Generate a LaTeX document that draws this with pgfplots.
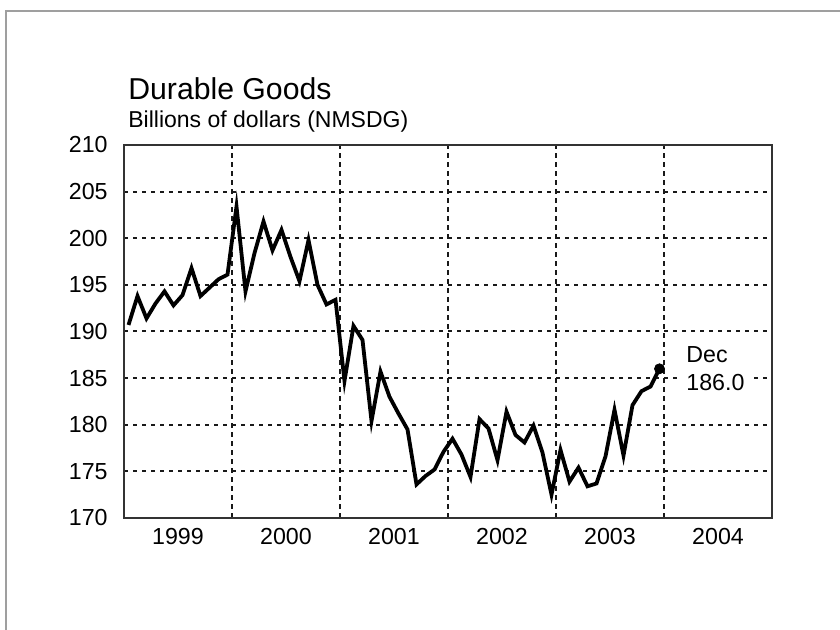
\documentclass[border=0pt]{standalone}
\usepackage{fontspec}
\setmainfont{Liberation Sans}
\usepackage{pgfplots}
\pgfplotsset{compat=1.18}
\begin{document}
\begin{tikzpicture}[x=1pt,y=1pt]
\useasboundingbox (0,0) rectangle (420,315);
\fill[white] (0,0) rectangle (420,315);
\draw[gray!75, line width=1pt] (3,-10) -- (3,309.5) -- (430,309.5);
\begin{axis}[
  at={(62pt,56pt)}, anchor=south west,
  scale only axis, width=324pt, height=186.5pt,
  xmin=0.5, xmax=72.5, ymin=170, ymax=210,
  xtick={6.5,18.5,30.5,42.5,54.5,66.5},
  xticklabels={1999,2000,2001,2002,2003,2004},
  minor xtick={12.5,24.5,36.5,48.5,60.5},
  ytick={170,175,...,210},
  major tick length=0pt, minor tick length=0pt,
  xminorgrids=true, ymajorgrids=true,
  minor grid style={black!90, line width=1pt, dash pattern=on 2.5pt off 2pt},
  major grid style={black!90, line width=1pt, dash pattern=on 2pt off 2.5pt},
  axis line style={black!80, line width=1pt},
  tick label style={font=\fontsize{11.6}{13}\selectfont, inner sep=0pt},
  /pgf/number format/assume math mode=true,
  yticklabel style={xshift=-8pt},
  xticklabel style={yshift=-5pt},
  clip=false,
]
\addplot[black, line width=1.9pt, line join=miter, mark=none] coordinates {
(1,190.7) (2,193.8) (3,191.4) (4,193.0) (5,194.3) (6,192.8) (7,193.9) (8,196.8) (9,193.8) (10,194.7) (11,195.6) (12,196.1)
(13,203.4) (14,194.3) (15,198.4) (16,201.8) (17,198.7) (18,200.9) (19,198.0) (20,195.4) (21,199.8) (22,195.0) (23,192.9) (24,193.4)
(25,184.7) (26,190.6) (27,189.1) (28,180.4) (29,185.7) (30,183.0) (31,181.2) (32,179.5) (33,173.6) (34,174.5) (35,175.2) (36,177.1)
(37,178.5) (38,176.8) (39,174.4) (40,180.6) (41,179.6) (42,176.2) (43,181.4) (44,178.9) (45,178.1) (46,179.9) (47,177.0) (48,172.5)
(49,177.3) (50,173.9) (51,175.4) (52,173.4) (53,173.7) (54,176.6) (55,181.6) (56,176.7) (57,182.1) (58,183.6) (59,184.1) (60,186.0)
};
\addplot[black, only marks, mark=*, mark size=2.5pt] coordinates {(60,186.0)};
\end{axis}
\node[anchor=base west, inner sep=0pt, font=\fontsize{15.1}{17}\selectfont] at (64,265.35) {Durable Goods};
\node[anchor=base west, inner sep=0pt, font=\fontsize{11.5}{13}\selectfont] at (64,251.35) {Billions of dollars (NMSDG)};
\node[anchor=base west, inner sep=0pt, font=\fontsize{11.6}{13}\selectfont] at (343,133.65) {Dec};
\node[anchor=base west, inner xsep=3pt, inner ysep=1pt, fill=white, font=\fontsize{11.6}{13}\selectfont, xshift=-3pt] at (343,119.65) {186.0};
\end{tikzpicture}
\end{document}
